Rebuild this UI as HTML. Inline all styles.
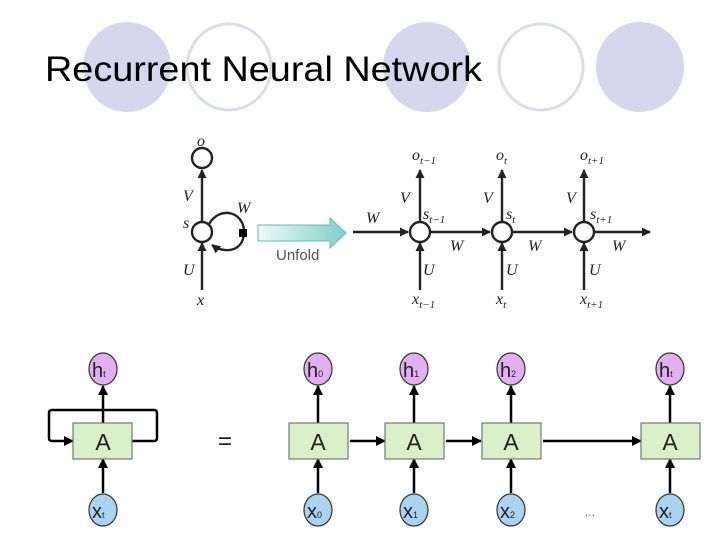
<!DOCTYPE html>
<html><head><style>
body{margin:0;background:#fff;width:720px;height:540px;overflow:hidden}
</style></head><body>
<svg width="720" height="540" viewBox="0 0 720 540" xmlns="http://www.w3.org/2000/svg">
<defs>
<marker id="a" markerWidth="9" markerHeight="9" refX="8" refY="4.5" orient="auto" markerUnits="userSpaceOnUse"><path d="M0,0 L9,4.5 L0,9 z" fill="#222"/></marker>
<marker id="b" markerWidth="10" markerHeight="10" refX="9" refY="5" orient="auto" markerUnits="userSpaceOnUse"><path d="M0,0 L10,5 L0,10 z" fill="#000"/></marker>
<linearGradient id="g" x1="0" x2="1"><stop offset="0" stop-color="#eef9f7"/><stop offset="1" stop-color="#7fcfc6"/></linearGradient>
</defs>
<ellipse cx="127" cy="67" rx="44" ry="45" fill="#d6d6ec"/>
<ellipse cx="229" cy="67" rx="42" ry="43" fill="none" stroke="#dcdcea" stroke-width="3"/>
<ellipse cx="427" cy="67" rx="44" ry="45" fill="#d6d6ec"/>
<ellipse cx="541" cy="67" rx="42" ry="43" fill="none" stroke="#dcdcea" stroke-width="3"/>
<ellipse cx="640" cy="67" rx="44" ry="45" fill="#d6d6ec"/>
<text x="45" y="81" font-family="Liberation Sans, sans-serif" font-size="35" textLength="437" lengthAdjust="spacingAndGlyphs" fill="#000">Recurrent Neural Network</text>

<g stroke="#222" stroke-width="2.4" fill="none">
<circle cx="202" cy="158" r="10" fill="#fff"/>
<circle cx="202" cy="232" r="10" fill="#fff"/>
<line x1="202" y1="290" x2="202" y2="243" marker-end="url(#a)"/>
<line x1="202" y1="221" x2="202" y2="170" marker-end="url(#a)"/>
<path d="M209,224 C220,205 245,212 244,233 C243,252 224,254 212,245" marker-end="url(#a)"/>
<line x1="353" y1="232" x2="408" y2="232" marker-end="url(#a)"/>
<circle cx="420" cy="232" r="10" fill="#fff"/>
<circle cx="502" cy="232" r="10" fill="#fff"/>
<circle cx="584" cy="232" r="10" fill="#fff"/>
<line x1="431" y1="232" x2="490" y2="232" marker-end="url(#a)"/>
<line x1="513" y1="232" x2="572" y2="232" marker-end="url(#a)"/>
<line x1="595" y1="232" x2="650" y2="232" marker-end="url(#a)"/>
<line x1="420" y1="290" x2="420" y2="243" marker-end="url(#a)"/>
<line x1="502" y1="290" x2="502" y2="243" marker-end="url(#a)"/>
<line x1="584" y1="290" x2="584" y2="243" marker-end="url(#a)"/>
<line x1="420" y1="221" x2="420" y2="170" marker-end="url(#a)"/>
<line x1="502" y1="221" x2="502" y2="170" marker-end="url(#a)"/>
<line x1="584" y1="221" x2="584" y2="170" marker-end="url(#a)"/>
</g>
<rect x="239" y="229" width="8" height="8" fill="#000"/>
<path d="M258,225 L330,225 L330,218 L346,233 L330,248 L330,241 L258,241 Z" fill="url(#g)" stroke="#5cbfb4" stroke-width="1"/>
<text x="276" y="260" font-family="Liberation Sans, sans-serif" font-size="15" fill="#555">Unfold</text>
<g font-family="Liberation Serif, serif" font-style="italic" font-size="16" fill="#222">
<text x="197" y="146">o</text><text x="183" y="201">V</text><text x="183" y="228">s</text>
<text x="237" y="213">W</text><text x="183" y="275">U</text><text x="197" y="305">x</text>
<text x="366" y="223">W</text>
<text x="412" y="160">o<tspan font-size="11" dy="4">t−1</tspan></text>
<text x="496" y="160">o<tspan font-size="11" dy="4">t</tspan></text>
<text x="580" y="160">o<tspan font-size="11" dy="4">t+1</tspan></text>
<text x="400" y="203">V</text><text x="483" y="203">V</text><text x="566" y="203">V</text>
<text x="423" y="219">s<tspan font-size="11" dy="4">t−1</tspan></text>
<text x="506" y="219">s<tspan font-size="11" dy="4">t</tspan></text>
<text x="590" y="219">s<tspan font-size="11" dy="4">t+1</tspan></text>
<text x="450" y="251">W</text><text x="528" y="251">W</text><text x="612" y="251">W</text>
<text x="423" y="275">U</text><text x="506" y="275">U</text><text x="589" y="275">U</text>
<text x="412" y="304">x<tspan font-size="11" dy="4">t−1</tspan></text>
<text x="496" y="304">x<tspan font-size="11" dy="4">t</tspan></text>
<text x="580" y="304">x<tspan font-size="11" dy="4">t+1</tspan></text>
</g>

<g stroke="#000" stroke-width="2.5" fill="none">
<path d="M103,423 L103,386" marker-end="url(#b)"/>
<path d="M103,493 L103,459" marker-end="url(#b)"/>
<path d="M132,441 L154,441 Q157,441 157,438 L157,413 Q157,410 154,410 L52,410 Q49,410 49,413 L49,438 Q49,441 52,441 L73,441" marker-end="url(#b)"/>
<path d="M318,423 L318,386" marker-end="url(#b)"/>
<path d="M414,423 L414,386" marker-end="url(#b)"/>
<path d="M511,423 L511,386" marker-end="url(#b)"/>
<path d="M670,423 L670,386" marker-end="url(#b)"/>
<path d="M318,493 L318,459" marker-end="url(#b)"/>
<path d="M414,493 L414,459" marker-end="url(#b)"/>
<path d="M511,493 L511,459" marker-end="url(#b)"/>
<path d="M670,493 L670,459" marker-end="url(#b)"/>
<path d="M350,441 L385,441" marker-end="url(#b)"/>
<path d="M446,441 L481,441" marker-end="url(#b)"/>
<path d="M543,441 L641,441" marker-end="url(#b)"/>
</g>
<g stroke="#333" stroke-width="1.2">
<rect x="73" y="423" width="59" height="36" fill="#d9f0c8" stroke="#777"/>
<rect x="289" y="423" width="59" height="36" fill="#d9f0c8" stroke="#777"/>
<rect x="385" y="423" width="59" height="36" fill="#d9f0c8" stroke="#777"/>
<rect x="482" y="423" width="59" height="36" fill="#d9f0c8" stroke="#777"/>
<rect x="641" y="423" width="59" height="36" fill="#d9f0c8" stroke="#777"/>
<ellipse cx="103" cy="369" rx="14" ry="16" fill="#e2b0ee"/>
<ellipse cx="318" cy="369" rx="14" ry="16" fill="#e2b0ee"/>
<ellipse cx="414" cy="369" rx="14" ry="16" fill="#e2b0ee"/>
<ellipse cx="511" cy="369" rx="14" ry="16" fill="#e2b0ee"/>
<ellipse cx="670" cy="369" rx="14" ry="16" fill="#e2b0ee"/>
<ellipse cx="103" cy="510" rx="14" ry="16" fill="#a9d3f0"/>
<ellipse cx="318" cy="510" rx="14" ry="16" fill="#a9d3f0"/>
<ellipse cx="414" cy="510" rx="14" ry="16" fill="#a9d3f0"/>
<ellipse cx="511" cy="510" rx="14" ry="16" fill="#a9d3f0"/>
<ellipse cx="670" cy="510" rx="14" ry="16" fill="#a9d3f0"/>
</g>
<g font-family="Liberation Sans, sans-serif" fill="#222">
<g font-size="23" text-anchor="middle">
<text x="103" y="450">A</text><text x="318" y="450">A</text><text x="414" y="450">A</text><text x="511" y="450">A</text><text x="670" y="450">A</text>
</g>
<text x="225" y="449" font-size="24" text-anchor="middle">=</text>
<text x="590" y="516" font-size="12" text-anchor="middle" fill="#666">...</text>
<g font-size="20">
<text x="92" y="377">h<tspan font-size="9">t</tspan></text>
<text x="307" y="377">h<tspan font-size="9">0</tspan></text>
<text x="403" y="377">h<tspan font-size="9">1</tspan></text>
<text x="500" y="377">h<tspan font-size="9">2</tspan></text>
<text x="659" y="377">h<tspan font-size="9">t</tspan></text>
<text x="92" y="518">x<tspan font-size="9">t</tspan></text>
<text x="307" y="518">x<tspan font-size="9">0</tspan></text>
<text x="403" y="518">x<tspan font-size="9">1</tspan></text>
<text x="500" y="518">x<tspan font-size="9">2</tspan></text>
<text x="659" y="518">x<tspan font-size="9">t</tspan></text>
</g>
</g>
</svg>
</body></html>
